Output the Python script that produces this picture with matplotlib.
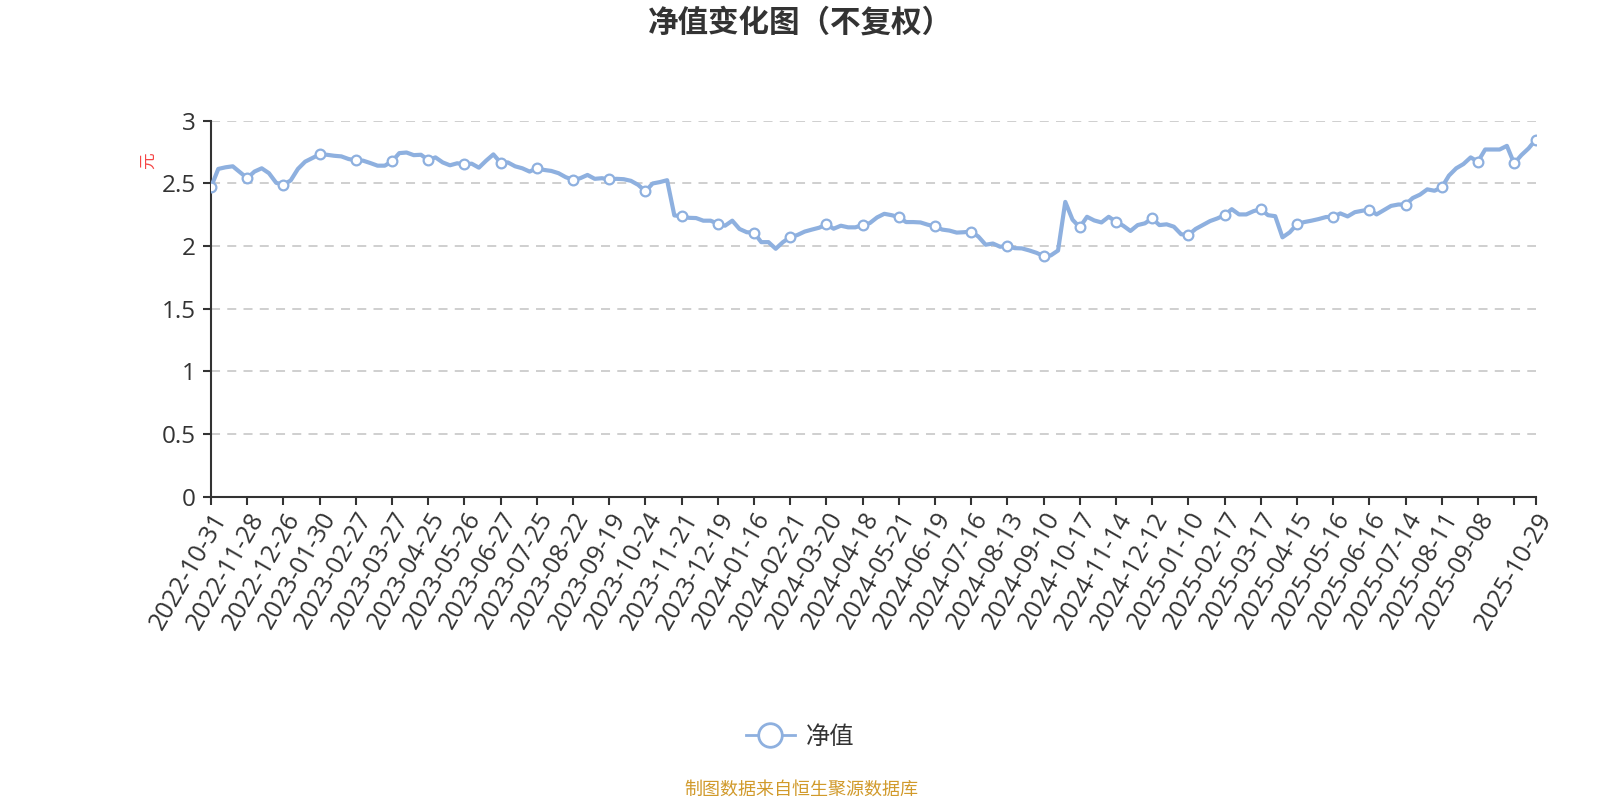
import numpy as np
import matplotlib
matplotlib.use('Agg')
import matplotlib.pyplot as plt
from matplotlib.lines import Line2D

plt.rcParams['font.family'] = ['Noto Sans CJK SC', 'DejaVu Sans']

# tick labels (every 20 trading days, last one is the final day)
dates = ['2022-10-31', '2022-11-28', '2022-12-26', '2023-01-30', '2023-02-27', '2023-03-27',
         '2023-04-25', '2023-05-26', '2023-06-27', '2023-07-25', '2023-08-22', '2023-09-19',
         '2023-10-24', '2023-11-21', '2023-12-19', '2024-01-16', '2024-02-21', '2024-03-20',
         '2024-04-18', '2024-05-21', '2024-06-19', '2024-07-16', '2024-08-13', '2024-09-10',
         '2024-10-17', '2024-11-14', '2024-12-12', '2025-01-10', '2025-02-17', '2025-03-17',
         '2025-04-15', '2025-05-16', '2025-06-16', '2025-07-14', '2025-08-11', '2025-09-08',
         '2025-10-29']

nav_2022_2023 = [2.471, 2.616, 2.629, 2.637, 2.589, 2.542, 2.595, 2.621, 2.582, 2.505,
                 2.490, 2.524, 2.616, 2.674, 2.703, 2.732, 2.729, 2.721, 2.716, 2.695,
                 2.684, 2.682, 2.663, 2.642, 2.642, 2.676, 2.742, 2.747, 2.726, 2.729,
                 2.687, 2.708, 2.668, 2.645, 2.661, 2.653, 2.658, 2.626, 2.682, 2.732,
                 2.666, 2.668, 2.637, 2.621, 2.595, 2.621, 2.608, 2.600, 2.582, 2.550,
                 2.529, 2.542, 2.568, 2.537, 2.542, 2.532, 2.537, 2.534, 2.521, 2.489,
                 2.437, 2.500, 2.511, 2.526, 2.245, 2.239, 2.226, 2.224, 2.203, 2.203,
                 2.179, 2.163, 2.203, 2.137, 2.111]
nav_2024 = [2.108, 2.032, 2.032, 1.979, 2.032, 2.071, 2.089, 2.116, 2.132, 2.147,
            2.174, 2.139, 2.163, 2.150, 2.150, 2.168, 2.184, 2.229, 2.258, 2.247,
            2.232, 2.192, 2.192, 2.189, 2.171, 2.158, 2.132, 2.124, 2.108, 2.111,
            2.116, 2.076, 2.011, 2.021, 1.995, 2.003, 1.984, 1.982, 1.966, 1.947,
            1.921, 1.926, 1.965, 2.353, 2.211, 2.150, 2.234, 2.205, 2.189, 2.234,
            2.195, 2.163, 2.121, 2.168, 2.182, 2.221, 2.168, 2.174, 2.155, 2.095]
nav_2025 = [2.089, 2.137, 2.168, 2.200, 2.221, 2.247, 2.295, 2.253, 2.253, 2.279,
            2.295, 2.247, 2.239, 2.070, 2.110, 2.174, 2.192, 2.203, 2.216, 2.232,
            2.234, 2.261, 2.237, 2.271, 2.282, 2.292, 2.253, 2.287, 2.321, 2.332,
            2.332, 2.384, 2.411, 2.453, 2.442, 2.468, 2.563, 2.621, 2.655, 2.708,
            2.674, 2.771, 2.771, 2.771, 2.800, 2.660, 2.726, 2.780, 2.850]

nav = np.array(nav_2022_2023 + nav_2024 + nav_2025)
n = len(nav)
x = np.arange(n)

line_color = '#8eb0df'
text_color = '#333333'
num_font = ['Open Sans', 'Noto Sans CJK SC']

fig = plt.figure(figsize=(16, 8), dpi=100)
ax = fig.add_axes([0.1319, 0.379, 0.828, 0.470])

mark_idx = list(range(0, n, 5)) + [n - 1]
ax.plot(x, nav, color=line_color, lw=3, solid_joinstyle='round', zorder=3)
ax.plot(x[mark_idx], nav[mark_idx], 'o', ms=7, mfc='white', mec=line_color, mew=1.6, zorder=4)

ax.set_xlim(0, n - 1)
ax.set_ylim(0, 3)
ax.set_yticks([0, 0.5, 1, 1.5, 2, 2.5, 3])
ax.set_yticklabels(['0', '0.5', '1', '1.5', '2', '2.5', '3'], family=num_font)
for v in [0.5, 1, 1.5, 2, 2.5, 3]:
    ax.axhline(v, color='#cccccc', lw=1.3, ls=(0, (5, 4)), zorder=1)

tick_pos = list(range(0, n, 5)) + [n - 1]
tick_lab = dates[:-1] + [''] + [dates[-1]]
ax.set_xticks(tick_pos)
ax.set_xticklabels(tick_lab, rotation=60, ha='right', va='top', rotation_mode='anchor',
                   family=num_font)

for s in ['top', 'right']:
    ax.spines[s].set_visible(False)
for s in ['left', 'bottom']:
    ax.spines[s].set_color(text_color)
    ax.spines[s].set_linewidth(1.5)
ax.tick_params(axis='both', colors=text_color, length=6, width=1.5)
ax.tick_params(axis='y', labelsize=17.5, pad=5)
ax.tick_params(axis='x', labelsize=18, pad=2)

fig.text(0.5, 1 - 23 / 800, '净值变化图（不复权）', ha='center', va='center',
         fontsize=22, fontweight='bold', color=text_color)
fig.text(148.5 / 1600, 1 - 161 / 800, '元', rotation=90, ha='center', va='center',
         fontsize=12, color='#f54545')

handle = Line2D([], [], color=line_color, lw=2, marker='o', ms=17, mfc='white',
                mec=line_color, mew=2)
fig.legend([handle], ['净值'], loc='center', bbox_to_anchor=(0.5, 1 - 737 / 800),
           frameon=False, fontsize=17.5, handlelength=2.0, handletextpad=0.45,
           labelcolor=text_color)

fig.text(0.501, 1 - 790 / 800, '制图数据来自恒生聚源数据库', ha='center', va='center',
         fontsize=13, color='#d19a2b')

fig.savefig('out.png', dpi=100)
